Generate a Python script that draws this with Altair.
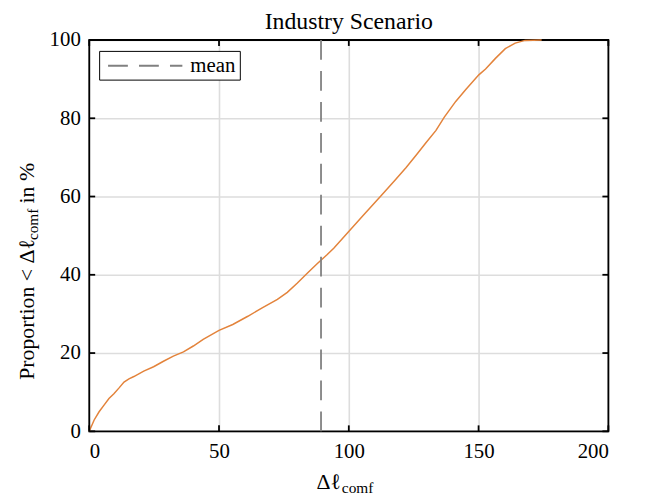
import altair as alt
import pandas as pd

# ---------------- data ----------------
title_text = "Industry Scenario"
x_title_parts = ["Δℓ", "comf"]
y_title_parts = ["Proportion < Δℓ", "comf", "in %"]
legend_labels = ["mean"]

cdf_x = [0, 1.9, 3.8, 5.7, 7.6, 9.5, 11.5, 13.4, 15.3, 17.2, 21.0, 24.8, 28.6,
         32.4, 36.3, 40.1, 43.9, 50.0, 55.3, 61.1, 66.8, 72.5, 76.3, 80.2, 84.0,
         87.8, 91.6, 94.2, 99.9, 105.6, 112.6, 117.7, 122.1, 126.0, 129.8, 133.6,
         136.8, 141.2, 145.0, 150.1, 152.7, 156.5, 160.3, 164.1, 167.9, 174.3]
cdf_y = [0, 2.9, 5.0, 6.7, 8.4, 9.6, 11.1, 12.6, 13.4, 14.0, 15.4, 16.5, 17.9,
         19.2, 20.3, 21.8, 23.5, 25.8, 27.3, 29.4, 31.6, 33.7, 35.5, 37.9, 40.4,
         42.8, 45.1, 46.8, 51.0, 55.2, 60.3, 64.1, 67.4, 70.6, 73.8, 76.9,
         80.3, 84.3, 87.3, 91.1, 92.6, 95.3, 97.8, 99.2, 99.9, 100]
mean_value = [89.3]

x_ticks = [0, 50, 100, 150, 200]
y_ticks = [0, 20, 40, 60, 80, 100]

# ---------------- style ----------------
W, H = 524, 395
FONT = "Liberation Serif"
ORANGE = "#e3833b"
GRAY = "#808080"
DASH = [20, 11.25]
TICK = 6
LBL = 21
AX = 22
SUB = 15.5

xs = alt.Scale(domain=[0, 200], nice=False, zero=False)
ys = alt.Scale(domain=[0, 100], nice=False, zero=False)
ax_x = alt.Axis(values=x_ticks, title=None, grid=True, ticks=False, domain=False,
                labelPadding=9, labelFontSize=LBL, labelFont=FONT,
                labelColor="black", format="d")
ax_y = alt.Axis(values=y_ticks, title=None, grid=True, ticks=False, domain=False,
                labelPadding=9, labelFontSize=LBL, labelFont=FONT,
                labelColor="black", format="d")

frame = alt.Chart(pd.DataFrame({"a": [0]})).mark_rect(
    fillOpacity=0, stroke="black", strokeWidth=1.8
).encode(x=alt.value(0), x2=alt.value(W), y=alt.value(0), y2=alt.value(H))

curve = alt.Chart(pd.DataFrame({"x": cdf_x, "y": cdf_y})).mark_line(
    color=ORANGE, strokeWidth=1.5
).encode(
    x=alt.X("x:Q", scale=xs, axis=ax_x),
    y=alt.Y("y:Q", scale=ys, axis=ax_y),
)

mean_rule = alt.Chart(pd.DataFrame({"x": mean_value, "label": legend_labels})).mark_rule(
    color=GRAY, strokeWidth=1.8
).encode(
    x=alt.X("x:Q", scale=xs, axis=ax_x),
    y=alt.value(H), y2=alt.value(0),
    strokeDash=alt.StrokeDash(
        "label:N",
        scale=alt.Scale(domain=legend_labels, range=[DASH]),
        legend=alt.Legend(
            title=None, orient="none", legendX=10, legendY=11,
            symbolType="M-0.6,0H6.9", symbolSize=400, symbolStrokeWidth=1.8,
            symbolStrokeColor=GRAY, symbolFillColor="transparent",
            labelFontSize=LBL, labelFont=FONT,
            labelColor="black", labelOffset=66, strokeColor="black",
            fillColor="white", padding=4, cornerRadius=0,
        ),
    ),
)

xt = alt.Chart(pd.DataFrame({"v": x_ticks}))
yt = alt.Chart(pd.DataFrame({"v": y_ticks}))
tick_style = dict(color="black", strokeWidth=1.8)
ticks = [
    xt.mark_rule(**tick_style).encode(x=alt.X("v:Q", scale=xs, axis=ax_x), y=alt.value(H), y2=alt.value(H - TICK)),
    xt.mark_rule(**tick_style).encode(x=alt.X("v:Q", scale=xs, axis=ax_x), y=alt.value(0), y2=alt.value(TICK)),
    yt.mark_rule(**tick_style).encode(y=alt.Y("v:Q", scale=ys, axis=ax_y), x=alt.value(0), x2=alt.value(TICK)),
    yt.mark_rule(**tick_style).encode(y=alt.Y("v:Q", scale=ys, axis=ax_y), x=alt.value(W), x2=alt.value(W - TICK)),
]


def txt(s, size, x, y, align="left", angle=0, baseline="alphabetic"):
    return alt.Chart(pd.DataFrame({"t": [s]})).mark_text(
        font=FONT, fontSize=size, align=align, baseline=baseline,
        color="black", angle=angle
    ).encode(x=alt.value(x), y=alt.value(y), text="t:N")


texts = [
    txt(title_text, 24, W / 2, -30, align="center", baseline="top"),
    txt(x_title_parts[0], AX, 254, 453, align="right"),
    txt(x_title_parts[1], SUB, 255, 457),
    txt(y_title_parts[0], AX, -56, 343, angle=270),
    txt(y_title_parts[1], SUB, -52, 202, angle=270),
    txt(y_title_parts[2], AX, -56, 165, angle=270),
]

chart = alt.layer(frame, curve, mean_rule, *ticks, *texts).properties(
    width=W, height=H,
    padding={"left": 82, "top": 30, "right": 38, "bottom": 64},
    autosize=alt.AutoSizeParams(type="none"),
).configure_view(stroke="transparent").configure_axis(
    gridColor="#dddddd", gridWidth=1.6
)

chart.save("out.html", embed_options={"renderer": "svg", "actions": False})
